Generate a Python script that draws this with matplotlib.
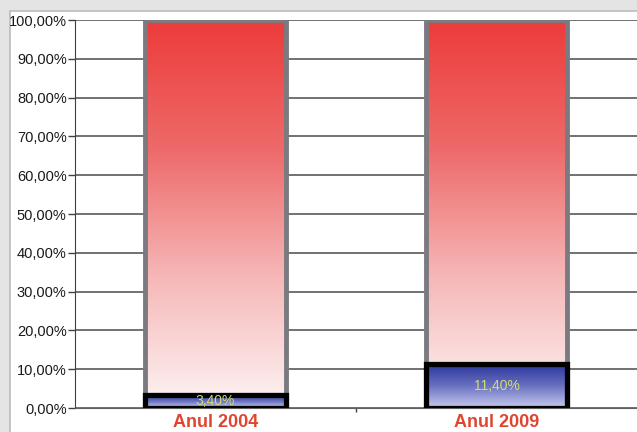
import numpy as np
import matplotlib
matplotlib.use("Agg")
import matplotlib.pyplot as plt
from matplotlib.colors import LinearSegmentedColormap
from matplotlib.patches import Rectangle

categories = ["Anul 2004", "Anul 2009"]
blue_values = [3.40, 11.40]
red_values = [96.60, 88.60]
value_labels = ["3,40%", "11,40%"]
ytick_values = [0, 10, 20, 30, 40, 50, 60, 70, 80, 90, 100]
ytick_labels = ["0,00%", "10,00%", "20,00%", "30,00%", "40,00%", "50,00%",
                "60,00%", "70,00%", "80,00%", "90,00%", "100,00%"]

W, H = 637, 432
fig = plt.figure(figsize=(W / 100, H / 100), dpi=100)
fig.patch.set_facecolor('#e4e4e4')
fig.patches.append(Rectangle((10 / W, -0.01), 1.1, (H - 11) / H + 0.01, transform=fig.transFigure,
                             facecolor='white', edgecolor='#bcbcbc', lw=1.2, zorder=-10))

ax = fig.add_axes([75 / W, 24 / H, 1 - 75 / W, 388 / H])
ax.set_facecolor('none')

red_cmap = LinearSegmentedColormap.from_list('r', ['#fdf4f4', '#f6b8b8', '#ee6a6a', '#ec3c3a'])
blue_cmap = LinearSegmentedColormap.from_list('b', ['#c8cbee', '#6870c0', '#27339a'])

x = np.arange(len(categories))
width = 0.5
grad = np.linspace(0, 1, 256).reshape(-1, 1)

red_bars = ax.bar(x, red_values, width=width, bottom=blue_values, facecolor='none',
                  edgecolor='#7a7a80', lw=3.5, zorder=4)
blue_bars = ax.bar(x, blue_values, width=width, facecolor='none',
                   edgecolor='black', lw=3.8, zorder=5)

for i in range(len(categories)):
    rb = red_bars[i]
    im = ax.imshow(grad, cmap=red_cmap, origin='lower', aspect='auto',
                   extent=[x[i] - width / 2, x[i] + width / 2, 0, 100], zorder=3)
    im.set_clip_path(rb)
    bb = blue_bars[i]
    im2 = ax.imshow(grad, cmap=blue_cmap, origin='lower', aspect='auto',
                    extent=[x[i] - width / 2, x[i] + width / 2, 0, blue_values[i]], zorder=3)
    im2.set_clip_path(bb)
    ax.text(x[i], blue_values[i] / 2, value_labels[i], ha='center', va='center',
            color='#d4dc6c', fontsize=10, family=['Liberation Sans', 'DejaVu Sans'], zorder=6)

ax.set_xlim(-0.5, 1.5)
ax.set_ylim(0, 100)
ax.set_yticks(ytick_values)
ax.set_yticklabels(ytick_labels, fontsize=10.5, color='#1a1a1a',
                   family=['Liberation Sans', 'DejaVu Sans'])
ax.tick_params(axis='y', length=5, width=1, color='#404040', pad=1)
ax.set_xticks(x)
ax.set_xticklabels(categories, fontsize=13, fontweight='bold', color='#e0452f',
                   family=['Liberation Sans', 'DejaVu Sans'])
ax.tick_params(axis='x', length=0, pad=4)
ax.set_xticks([0.5], minor=True)
ax.tick_params(axis='x', which='minor', length=3, width=1, color='#404040')

ax.set_axisbelow(True)
ax.yaxis.grid(True, color='#4a4a4a', lw=1.1)
for s in ['top', 'right']:
    ax.spines[s].set_visible(False)
ax.spines['left'].set_color('#404040')
ax.spines['bottom'].set_color('#606060')

fig.savefig('out.png', dpi=100, facecolor=fig.get_facecolor())
